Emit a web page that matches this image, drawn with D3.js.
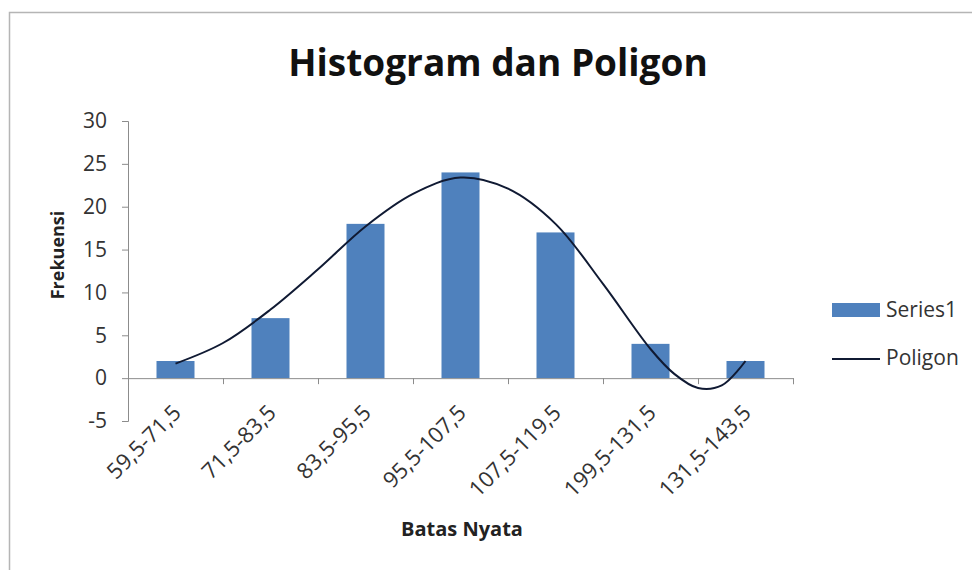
<!DOCTYPE html>
<html>
<head>
<meta charset="utf-8">
<script src="https://cdn.jsdelivr.net/npm/d3@7"></script>
<style>
  body { margin: 0; background: #fff; }
  svg { display: block; font-family: "Open Sans", "Noto Sans", sans-serif; }
</style>
</head>
<body>
<div id="chart"></div>
<script>
// data
const categories = ['59,5-71,5', '71,5-83,5', '83,5-95,5', '95,5-107,5', '107,5-119,5', '199,5-131,5', '131,5-143,5'];
const frequencies = [2, 7, 18, 24, 17, 4, 2];
// smoothed polygon, sampled along the curve (1 = first category centre)
const polygonPos = [1, 1.5, 2, 2.5, 3, 3.5, 4, 4.5, 5, 5.5, 6, 6.25, 6.5, 6.75, 7];
const polygonVal = [1.7, 4.1, 8.0, 12.7, 17.7, 21.5, 23.4, 22.1, 18.0, 11.0, 3.4, 0.5, -1.15, -0.85, 2.0];
const yTicks = [-5, 0, 5, 10, 15, 20, 25, 30];

const width = 972;
const height = 570;
const margin = {top: 121, left: 128, right: 179, bottom: 149};
const font = '"Open Sans", "Noto Sans", sans-serif';

const svg = d3.select('#chart')
  .append('svg')
  .attr('width', width)
  .attr('height', height);

// chart border
svg.append('rect')
  .attr('x', 9.5)
  .attr('y', 12.5)
  .attr('width', width + 10)
  .attr('height', height + 10)
  .attr('fill', 'none')
  .attr('stroke', '#b5b5b5')
  .attr('stroke-width', 1.5);

const x = d3.scaleBand()
  .domain(categories)
  .range([margin.left, width - margin.right])
  .paddingInner(0.6)
  .paddingOuter(0.3);

const xPos = d3.scaleLinear()
  .domain([0.5, categories.length + 0.5])
  .range([margin.left, width - margin.right]);

const y = d3.scaleLinear()
  .domain([-5, 30])
  .range([height - margin.bottom, margin.top]);

// title
svg.append('text')
  .attr('x', 498)
  .attr('y', 76)
  .attr('text-anchor', 'middle')
  .style('font-size', '37px')
  .style('font-weight', 'bold')
  .style('fill', '#111')
  .text('Histogram dan Poligon');

// y axis
const yAxis = svg.append('g')
  .attr('transform', `translate(${margin.left},0)`)
  .call(d3.axisLeft(y).tickValues(yTicks).tickSize(6).tickPadding(15).tickFormat(d => String(d)));
yAxis.attr('font-family', font);
yAxis.select('.domain').attr('stroke', '#8c8c8c');
yAxis.selectAll('.tick line').attr('stroke', '#8c8c8c');
yAxis.selectAll('.tick text')
  .style('font-size', '21px')
  .style('fill', '#333');

// bars
svg.selectAll('.bar')
  .data(frequencies)
  .enter()
  .append('rect')
  .attr('class', 'bar')
  .attr('x', (d, i) => x(categories[i]))
  .attr('width', x.bandwidth())
  .attr('y', d => y(d))
  .attr('height', d => y(0) - y(d))
  .attr('fill', '#4f81bd');

// x axis along zero
const xAxis = svg.append('g')
  .attr('transform', `translate(0,${y(0)})`)
  .call(d3.axisBottom(xPos).tickValues(d3.range(0.5, categories.length + 1, 1)).tickSize(6).tickFormat(''));
xAxis.select('.domain').attr('stroke', '#8c8c8c');
xAxis.selectAll('.tick line').attr('stroke', '#8c8c8c');

// category labels, rotated
svg.selectAll('.xlabel')
  .data(categories)
  .enter()
  .append('text')
  .attr('class', 'xlabel')
  .attr('text-anchor', 'end')
  .attr('transform', (d, i) => `translate(${xPos(i + 1) + 7},${y(-5) - 7}) rotate(-45)`)
  .style('font-size', '22px')
  .style('fill', '#333')
  .text(d => d);

// polygon curve
const line = d3.line()
  .x(d => xPos(d[0]))
  .y(d => y(d[1]))
  .curve(d3.curveCatmullRom.alpha(0.5));

svg.append('path')
  .datum(d3.zip(polygonPos, polygonVal))
  .attr('d', line)
  .attr('fill', 'none')
  .attr('stroke', '#101a33')
  .attr('stroke-width', 2);

// axis titles
svg.append('text')
  .attr('transform', 'translate(64,255) rotate(-90)')
  .attr('text-anchor', 'middle')
  .style('font-size', '18px')
  .style('font-weight', 'bold')
  .style('fill', '#222')
  .text('Frekuensi');

svg.append('text')
  .attr('x', 462)
  .attr('y', 536)
  .attr('text-anchor', 'middle')
  .style('font-size', '20px')
  .style('font-weight', 'bold')
  .style('fill', '#222')
  .text('Batas Nyata');

// legend
const legend = svg.append('g').attr('transform', 'translate(832,0)');
legend.append('rect')
  .attr('x', 0).attr('y', 303)
  .attr('width', 48).attr('height', 14)
  .attr('fill', '#4f81bd');
legend.append('text')
  .attr('x', 54).attr('y', 317)
  .style('font-size', '21px')
  .style('fill', '#333')
  .text('Series1');
legend.append('line')
  .attr('x1', 0).attr('x2', 48)
  .attr('y1', 359).attr('y2', 359)
  .attr('stroke', '#101a33')
  .attr('stroke-width', 2);
legend.append('text')
  .attr('x', 54).attr('y', 365)
  .style('font-size', '21px')
  .style('fill', '#333')
  .text('Poligon');
</script>
</body>
</html>
